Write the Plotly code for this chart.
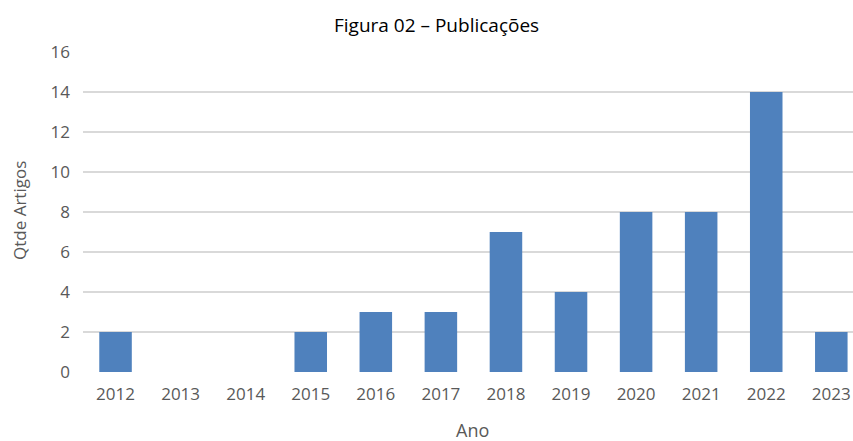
import plotly.graph_objects as go

anos = ["2012", "2013", "2014", "2015", "2016", "2017", "2018", "2019", "2020", "2021", "2022", "2023"]
artigos = [2, 0, 0, 2, 3, 3, 7, 4, 8, 8, 14, 2]
y_ticks = [0, 2, 4, 6, 8, 10, 12, 14, 16]

W, H = 853, 441
L, T, R = 83, 52, 0
B = H - T - 320              # 320 px tall plot area
pw = W - L - R
ph = H - T - B

def px_x(p):  # screen px -> paper
    return (p - L) / pw

def px_y(p):
    return (T + ph - p) / ph

gray = "#595959"
font_main = "Open Sans, Noto Sans, DejaVu Sans, sans-serif"

fig = go.Figure(go.Bar(
    x=anos, y=artigos,
    marker=dict(color="#4F81BD", line=dict(width=0)),
    width=0.5,
))

fig.update_layout(
    width=W, height=H,
    margin=dict(l=L, r=R, t=T, b=B, pad=0, autoexpand=False),
    paper_bgcolor="white", plot_bgcolor="white",
    showlegend=False,
    font=dict(family=font_main, color=gray, size=16),
    annotations=[
        dict(text="Figura 02 – Publicações", xref="paper", yref="paper",
             x=px_x(436), y=px_y(25), showarrow=False, xanchor="center", yanchor="middle",
             font=dict(family=font_main, size=19, color="black")),
        dict(text="Qtde Artigos", xref="paper", yref="paper",
             x=px_x(19), y=px_y(211), showarrow=False, xanchor="center", yanchor="middle",
             textangle=-90, font=dict(size=17, color=gray)),
        dict(text="Ano", xref="paper", yref="paper",
             x=px_x(473), y=px_y(430), showarrow=False, xanchor="center", yanchor="middle",
             font=dict(size=18, color=gray)),
    ],
)

fig.update_xaxes(
    type="category", automargin=False,
    range=[-0.5, (W - L) / 65.07 - 0.5],
    showgrid=False, showline=False, zeroline=False,
    ticks="", ticklabelstandoff=10,
    tickfont=dict(size=17, color=gray),
)
fig.update_yaxes(
    automargin=False,
    range=[0, 16],
    tickvals=y_ticks,
    showgrid=True, gridcolor="#D9D9D9", gridwidth=1.5,
    zeroline=False, showline=False,
    ticks="", ticklabelstandoff=12,
    tickfont=dict(size=17, color=gray),
)

# remove the browser's default 8px body margin so the 853x441 figure fills the window
fig.write_html("out.html", config={"displayModeBar": False},
               post_script="document.body.style.margin='0';")
